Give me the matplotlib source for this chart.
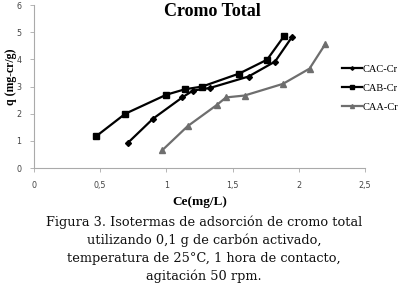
import numpy as np
import matplotlib.pyplot as plt

# Isotermas de adsorcion
cac_x = [0.71, 0.90, 1.12, 1.20, 1.33, 1.62, 1.82, 1.95]
cac_y = [0.93, 1.82, 2.60, 2.85, 2.95, 3.37, 3.92, 4.84]

cab_x = [0.47, 0.69, 1.00, 1.14, 1.27, 1.55, 1.76, 1.89]
cab_y = [1.17, 2.00, 2.70, 2.90, 3.00, 3.48, 3.99, 4.87]

caa_x = [0.97, 1.16, 1.38, 1.45, 1.59, 1.88, 2.08, 2.20]
caa_y = [0.66, 1.54, 2.32, 2.60, 2.67, 3.10, 3.66, 4.57]

xticks = [0, 0.5, 1, 1.5, 2, 2.5]
xtick_labels = ['0', '0,5', '1', '1,5', '2', '2,5']
yticks = [0, 1, 2, 3, 4, 5, 6]

fig = plt.figure(figsize=(4.08, 2.99), dpi=100)
ax = fig.add_axes([0.083, 0.438, 0.812, 0.545])

ax.plot(cac_x, cac_y, color='black', lw=1.6, marker='D', ms=3, label='CAC-Cr')
ax.plot(cab_x, cab_y, color='black', lw=1.6, marker='s', ms=4.2, label='CAB-Cr')
ax.plot(caa_x, caa_y, color='#6e6e6e', lw=1.6, marker='^', ms=4.8, label='CAA-Cr')

ax.set_xlim(0, 2.5)
ax.set_ylim(0, 6)
ax.set_xticks(xticks)
ax.set_xticklabels(xtick_labels)
ax.set_yticks(yticks)
ax.tick_params(labelsize=5.8, colors='#444444', length=3, width=0.6, pad=6)
ax.tick_params(axis='both', color='#aaaaaa')
for s in ['top', 'right']:
    ax.spines[s].set_visible(False)
for s in ['left', 'bottom']:
    ax.spines[s].set_color('#aaaaaa')
    ax.spines[s].set_linewidth(0.8)

ax.set_xlabel('Ce(mg/L)', family='Liberation Serif', weight='bold', fontsize=9.5, labelpad=5)
ax.set_ylabel('q (mg-cr/g)', family='Liberation Serif', weight='bold', fontsize=8.5)
ax.yaxis.set_label_coords(-0.052, 0.56)
fig.text(0.52, 0.96, 'Cromo Total', family='Liberation Serif', weight='bold',
         fontsize=13, ha='center', va='center')

leg = fig.legend(loc='center left', bbox_to_anchor=(0.838, 0.705), frameon=False,
                 prop={'family': 'Liberation Serif', 'size': 7.5},
                 handlelength=1.9, handletextpad=0.05, labelspacing=0.95,
                 borderpad=0, borderaxespad=0, markerscale=0.6)

caption = ('Figura 3. Isotermas de adsorción de cromo total\n'
           'utilizando 0,1 g de carbón activado,\n'
           'temperatura de 25°C, 1 hora de contacto,\n'
           'agitación 50 rpm.')
fig.text(0.5, 0.167, caption, family='DejaVu Serif', fontsize=9.3,
         ha='center', va='center', linespacing=1.45, color='#111111')

fig.savefig('out.png', dpi=100)
